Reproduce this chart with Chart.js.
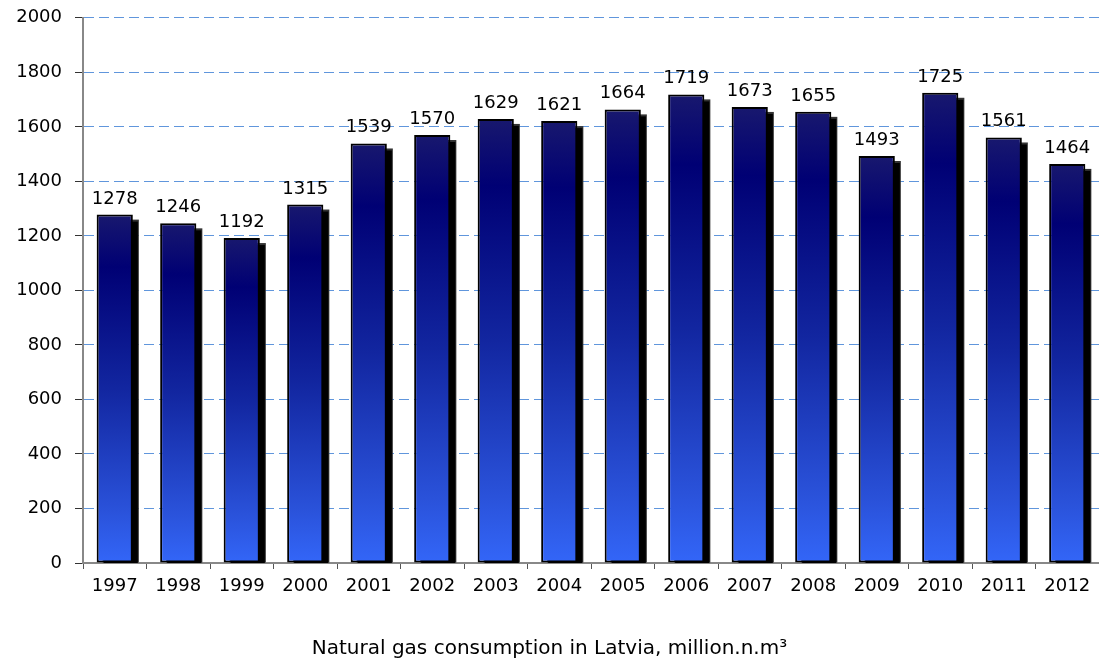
<!DOCTYPE html>
<html>
<head>
<meta charset="utf-8">
<script src="https://cdn.jsdelivr.net/npm/chart.js@4/dist/chart.umd.min.js"></script>
<style>
  html, body { margin: 0; padding: 0; background: #fff; overflow: hidden; }
  #frame { width: 1099px; height: 664px; overflow: hidden; position: relative; }
  #wrap { position: absolute; left: 0; top: -6px; width: 1099px; height: 670px; }
</style>
</head>
<body>
<div id="frame"><div id="wrap"><canvas id="gas-chart"></canvas></div></div>
<script>
const years = ['1997', '1998', '1999', '2000', '2001', '2002', '2003', '2004',
               '2005', '2006', '2007', '2008', '2009', '2010', '2011', '2012'];
const consumption = [1278, 1246, 1192, 1315, 1539, 1570, 1629, 1621,
                     1664, 1719, 1673, 1655, 1493, 1725, 1561, 1464];
const yTicks = [0, 200, 400, 600, 800, 1000, 1200, 1400, 1600, 1800, 2000];
const chartTitle = 'Natural gas consumption in Latvia, million.n.m³';

const FONT = '"DejaVu Sans", Verdana, sans-serif';

// gradient for each bar, from its top down to the axis
function barGradient(context) {
    const chart = context.chart;
    if (!chart.chartArea || context.raw === undefined) return '#000080';
    const y = chart.scales.y;
    const top = y.getPixelForValue(context.raw);
    const bottom = y.getPixelForValue(0);
    const g = chart.ctx.createLinearGradient(0, top, 0, bottom);
    g.addColorStop(0, '#18186e');
    g.addColorStop(0.15, '#000074');
    g.addColorStop(0.5, '#1226a0');
    g.addColorStop(0.85, '#2a52da');
    g.addColorStop(1, '#3366f8');
    return g;
}

// black drop shadow behind each bar, taken from the bar elements themselves
const barShadow = {
    id: 'barShadow',
    beforeDatasetsDraw(chart) {
        const ctx = chart.ctx;
        const area = chart.chartArea;
        const meta = chart.getDatasetMeta(0);
        ctx.save();
        ctx.beginPath();
        ctx.rect(area.left, area.top, area.right - area.left, area.bottom - area.top);
        ctx.clip();
        meta.data.forEach(bar => {
            const p = bar.getProps(['x', 'y', 'base', 'width'], true);
            const left = p.x - p.width / 2 + 6;
            const top = p.y + 5;
            ctx.fillStyle = '#333';
            ctx.fillRect(left, top, p.width, p.base - top);
            ctx.fillStyle = '#000';
            ctx.fillRect(left + 1, top + 2, p.width - 2, p.base - top);
        });
        ctx.restore();
    }
};

// value printed above every bar
const valueLabels = {
    id: 'valueLabels',
    afterDatasetsDraw(chart) {
        const ctx = chart.ctx;
        const meta = chart.getDatasetMeta(0);
        ctx.save();
        ctx.font = '18px ' + FONT;
        ctx.fillStyle = '#000';
        ctx.textAlign = 'center';
        ctx.textBaseline = 'alphabetic';
        meta.data.forEach((bar, i) => {
            ctx.fillText(String(consumption[i]), bar.x, bar.y - 11);
        });
        ctx.restore();
    }
};

const ctx = document.getElementById('gas-chart').getContext('2d');

const myChart = new Chart(ctx, {
    type: 'bar',
    data: {
        labels: years,
        datasets: [{
            data: consumption,
            backgroundColor: barGradient,
            borderColor: '#000',
            borderWidth: 2,
            borderSkipped: false,
            categoryPercentage: 1,
            barPercentage: 0.57
        }]
    },
    options: {
        responsive: true,
        maintainAspectRatio: false,
        animation: false,
        layout: { padding: { top: 10, right: 0, left: 0, bottom: 0 } },
        plugins: {
            legend: { display: false },
            tooltip: { enabled: false },
            title: {
                display: true,
                position: 'bottom',
                text: chartTitle,
                color: '#000',
                font: { family: FONT, size: 20, weight: 'normal' },
                padding: { top: 0, bottom: 3 }
            }
        },
        scales: {
            x: {
                offset: true,
                grid: {
                    display: true,
                    offset: true,
                    drawOnChartArea: false,
                    tickLength: 6,
                    tickColor: '#555'
                },
                border: { color: '#888', width: 2 },
                ticks: {
                    color: '#000',
                    padding: 7,
                    maxRotation: 0,
                    font: { family: FONT, size: 18 }
                },
                afterFit(scale) { scale.height = 74; }
            },
            y: {
                min: 0,
                max: 2000,
                afterBuildTicks(scale) {
                    scale.ticks = yTicks.map(v => ({ value: v }));
                },
                grid: {
                    color: '#6096dc',
                    lineWidth: 1,
                    tickLength: 8,
                    tickColor: '#333',
                    tickBorderDash: []
                },
                border: { color: '#888', width: 2, dash: [10, 5] },
                ticks: {
                    color: '#000',
                    padding: 13,
                    font: { family: FONT, size: 18 },
                    callback: v => String(v)
                },
                afterFit(scale) { scale.width = 83; }
            }
        }
    },
    plugins: [barShadow, valueLabels]
});
</script>
</body>
</html>
